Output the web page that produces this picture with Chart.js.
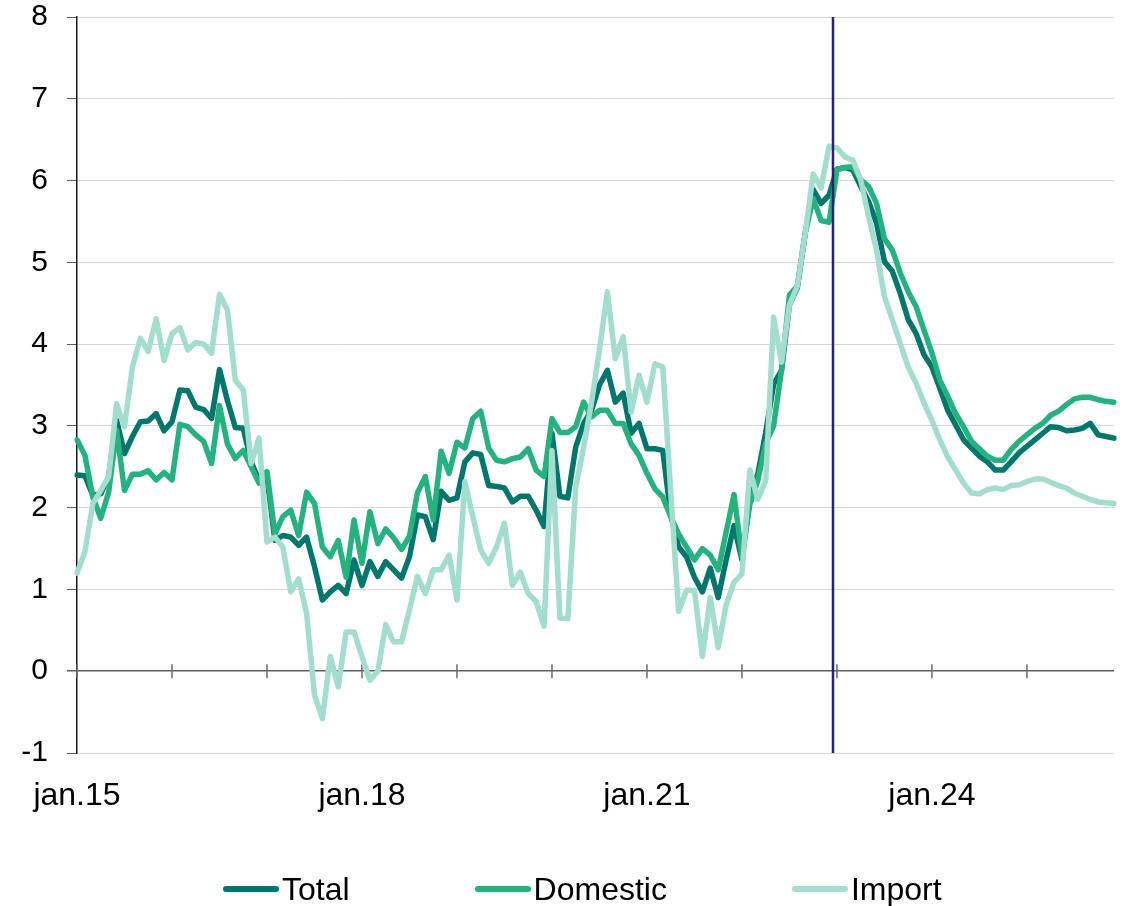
<!DOCTYPE html>
<html>
<head>
<meta charset="utf-8">
<script src="https://cdn.jsdelivr.net/npm/chart.js@4.4.1/dist/chart.umd.min.js"></script>
<style>
  html, body { margin: 0; padding: 0; background: #ffffff; }
  #wrap { position: relative; width: 1124px; height: 906px; }
  #legend {
    position: absolute; left: 223px; top: 871px; height: 36px;
    display: flex; align-items: center;
    font-family: 'Liberation Sans', Arial, sans-serif; font-size: 32px; line-height: 36px; color: #000;
  }
  .item { display: flex; align-items: center; margin-right: 125px; }
  .swatch { display: inline-block; width: 56px; height: 6px; border-radius: 3px; margin-right: 3px; }
</style>
</head>
<body>
<div id="wrap">
  <canvas id="chart" width="1124" height="906"></canvas>
  <div id="legend"></div>
</div>
<script>
// Monthly observations, January 2015 to December 2025 (percent)
const years = [15, 16, 17, 18, 19, 20, 21, 22, 23, 24, 25];
const monthNames = ['jan', 'feb', 'mar', 'apr', 'mai', 'jun', 'jul', 'aug', 'sep', 'okt', 'nov', 'des'];
const categories = years.flatMap(y => monthNames.map(m => m + '.' + y));

const total = [
  2.40, 2.39, 2.15, 2.17, 2.38, 3.07, 2.66, 2.87, 3.05, 3.06,
  3.15, 2.94, 3.05, 3.44, 3.43, 3.23, 3.20, 3.09, 3.69, 3.31,
  2.98, 2.97, 2.56, 2.33, 2.38, 1.60, 1.66, 1.64, 1.54, 1.64,
  1.28, 0.87, 0.97, 1.05, 0.95, 1.36, 1.05, 1.34, 1.16, 1.34,
  1.24, 1.14, 1.40, 1.91, 1.89, 1.61, 2.20, 2.09, 2.12, 2.56,
  2.67, 2.65, 2.27, 2.26, 2.24, 2.07, 2.14, 2.14, 1.97, 1.77,
  2.91, 2.14, 2.12, 2.74, 3.03, 3.19, 3.50, 3.68, 3.29, 3.40,
  2.91, 3.03, 2.72, 2.72, 2.70, 1.91, 1.52, 1.40, 1.15, 0.97,
  1.26, 0.90, 1.36, 1.78, 1.36, 2.12, 2.41, 2.92, 3.51, 3.68,
  4.48, 4.69, 5.36, 5.89, 5.72, 5.82, 6.14, 6.16, 6.13, 5.93,
  5.74, 5.48, 5.01, 4.89, 4.62, 4.30, 4.13, 3.87, 3.72, 3.46,
  3.19, 3.01, 2.83, 2.73, 2.63, 2.56, 2.46, 2.46, 2.56, 2.67,
  2.75, 2.83, 2.91, 2.99, 2.98, 2.94, 2.95, 2.97, 3.03, 2.89,
  2.87, 2.85
];

const domestic = [
  2.83, 2.64, 2.13, 1.87, 2.19, 2.95, 2.21, 2.41, 2.41, 2.45,
  2.34, 2.43, 2.34, 3.02, 2.99, 2.89, 2.81, 2.54, 3.25, 2.78,
  2.60, 2.70, 2.50, 2.30, 2.44, 1.68, 1.89, 1.97, 1.66, 2.19,
  2.05, 1.52, 1.40, 1.60, 1.15, 1.85, 1.32, 1.95, 1.56, 1.74,
  1.63, 1.49, 1.65, 2.18, 2.38, 1.85, 2.69, 2.42, 2.80, 2.73,
  3.09, 3.18, 2.73, 2.58, 2.56, 2.60, 2.62, 2.72, 2.46, 2.38,
  3.09, 2.92, 2.92, 2.99, 3.29, 3.11, 3.19, 3.19, 3.03, 3.03,
  2.78, 2.64, 2.42, 2.23, 2.13, 1.89, 1.68, 1.52, 1.36, 1.50,
  1.42, 1.24, 1.70, 2.16, 1.40, 2.04, 2.33, 2.79, 3.00, 3.68,
  4.60, 4.71, 5.36, 5.78, 5.51, 5.49, 6.13, 6.16, 6.17, 6.01,
  5.93, 5.72, 5.29, 5.15, 4.87, 4.64, 4.46, 4.17, 3.89, 3.56,
  3.36, 3.15, 2.99, 2.81, 2.72, 2.63, 2.58, 2.58, 2.71, 2.81,
  2.89, 2.97, 3.03, 3.13, 3.18, 3.26, 3.33, 3.35, 3.35, 3.32,
  3.30, 3.29
];

const imported = [
  1.20, 1.46, 2.05, 2.21, 2.38, 3.27, 2.99, 3.72, 4.07, 3.91,
  4.31, 3.80, 4.13, 4.20, 3.93, 4.02, 4.00, 3.89, 4.61, 4.42,
  3.56, 3.44, 2.54, 2.85, 1.58, 1.64, 1.52, 0.97, 1.13, 0.71,
  -0.29, -0.58, 0.18, -0.19, 0.48, 0.48, 0.18, -0.11, 0.00, 0.57,
  0.36, 0.36, 0.75, 1.16, 0.95, 1.24, 1.24, 1.42, 0.87, 2.32,
  1.89, 1.48, 1.32, 1.52, 1.81, 1.05, 1.21, 0.95, 0.85, 0.55,
  2.70, 0.65, 0.64, 2.25, 2.74, 3.29, 3.93, 4.64, 3.82, 4.09,
  3.17, 3.62, 3.29, 3.76, 3.72, 2.20, 0.73, 0.99, 0.99, 0.18,
  0.90, 0.29, 0.81, 1.09, 1.19, 2.46, 2.10, 2.33, 4.33, 3.78,
  4.48, 4.71, 5.36, 6.08, 5.91, 6.42, 6.40, 6.29, 6.25, 6.01,
  5.56, 5.15, 4.58, 4.30, 4.01, 3.72, 3.52, 3.28, 3.07, 2.83,
  2.62, 2.46, 2.30, 2.18, 2.17, 2.22, 2.24, 2.22, 2.27, 2.28,
  2.32, 2.35, 2.35, 2.31, 2.27, 2.24, 2.18, 2.14, 2.10, 2.07,
  2.06, 2.05
];

const seriesNames = ['Total', 'Domestic', 'Import'];
const seriesColors = ['#00766c', '#25b27e', '#a3ddcd'];
const yTicks = { min: -1, max: 8, step: 1 };
const labelEvery = 36;      // show a date label every third year
const tickEvery = 12;       // small tick on the zero line every year
const markerPosition = 95.5; // between des.22 and jan.23

Chart.defaults.font.family = "'Liberation Sans', Arial, sans-serif";
Chart.defaults.color = '#000';

// Year ticks crossing the zero line
const zeroLineTicks = {
  id: 'zeroLineTicks',
  beforeDatasetsDraw(chart) {
    const { ctx, scales: { x, y } } = chart;
    const y0 = y.getPixelForValue(0);
    ctx.save();
    ctx.strokeStyle = '#6a6a6a';
    ctx.lineWidth = 1.5;
    categories.forEach((c, i) => {
      if (i % tickEvery !== 0) return;
      const px = x.getPixelForValue(i);
      ctx.beginPath();
      ctx.moveTo(px, y0 - 7);
      ctx.lineTo(px, y0 + 7);
      ctx.stroke();
    });
    ctx.restore();
  }
};

// Vertical divider line
const markerLine = {
  id: 'markerLine',
  afterDatasetsDraw(chart) {
    const { ctx, chartArea, scales: { x } } = chart;
    const px = x.getPixelForValue(markerPosition);
    ctx.save();
    ctx.strokeStyle = '#2a2270';
    ctx.lineWidth = 2.5;
    ctx.beginPath();
    ctx.moveTo(px, chartArea.top);
    ctx.lineTo(px, chartArea.bottom);
    ctx.stroke();
    ctx.restore();
  }
};

const seriesData = [total, domestic, imported];
const datasets = seriesNames.map((name, k) => ({
  label: name,
  data: seriesData[k],
  borderColor: seriesColors[k],
  backgroundColor: seriesColors[k],
  borderWidth: 5.5,
  borderJoinStyle: 'round',
  borderCapStyle: 'round',
  pointRadius: 0,
  pointHoverRadius: 0,
  tension: 0,
  fill: false,
  order: seriesNames.length - k
}));

const chart = new Chart(document.getElementById('chart'), {
  type: 'line',
  data: { labels: categories, datasets },
  options: {
    responsive: false,
    animation: false,
    events: [],
    layout: { padding: { left: 21, right: 10, top: 17, bottom: 93 } },
    plugins: { legend: { display: false }, tooltip: { enabled: false } },
    scales: {
      x: {
        type: 'category',
        offset: false,
        grid: { display: false, drawTicks: false },
        border: { display: false },
        ticks: {
          autoSkip: false,
          maxRotation: 0,
          minRotation: 0,
          padding: 24,
          font: { size: 32 },
          color: '#000',
          callback: (v, i) => (i % labelEvery === 0 ? categories[i] : '')
        },
        afterFit: s => {
          s.height = 60;
          s.paddingLeft = 0;
          s.paddingRight = 0;
        }
      },
      y: {
        min: yTicks.min,
        max: yTicks.max,
        ticks: {
          stepSize: yTicks.step,
          padding: 19,
          font: { size: 30, lineHeight: 1 },
          color: '#000'
        },
        grid: {
          color: c => (c.tick && c.tick.value === 0 ? '#5e5e5e' : '#d6d6d6'),
          lineWidth: c => (c.tick && c.tick.value === 0 ? 1.5 : 1),
          tickColor: '#5e5e5e',
          tickLength: 10,
          drawTicks: true
        },
        border: { display: true, color: '#1a1a1a', width: 1.5 },
        afterFit: s => {
          s.width = 56;
          s.paddingTop = 0;
          s.paddingBottom = 0;
        }
      }
    }
  },
  plugins: [zeroLineTicks, markerLine]
});

// Legend below the chart, built from the datasets
const legend = document.getElementById('legend');
chart.data.datasets.forEach(ds => {
  const item = document.createElement('div');
  item.className = 'item';
  const sw = document.createElement('span');
  sw.className = 'swatch';
  sw.style.background = ds.borderColor;
  const txt = document.createElement('span');
  txt.textContent = ds.label;
  item.appendChild(sw);
  item.appendChild(txt);
  legend.appendChild(item);
});
</script>
</body>
</html>
